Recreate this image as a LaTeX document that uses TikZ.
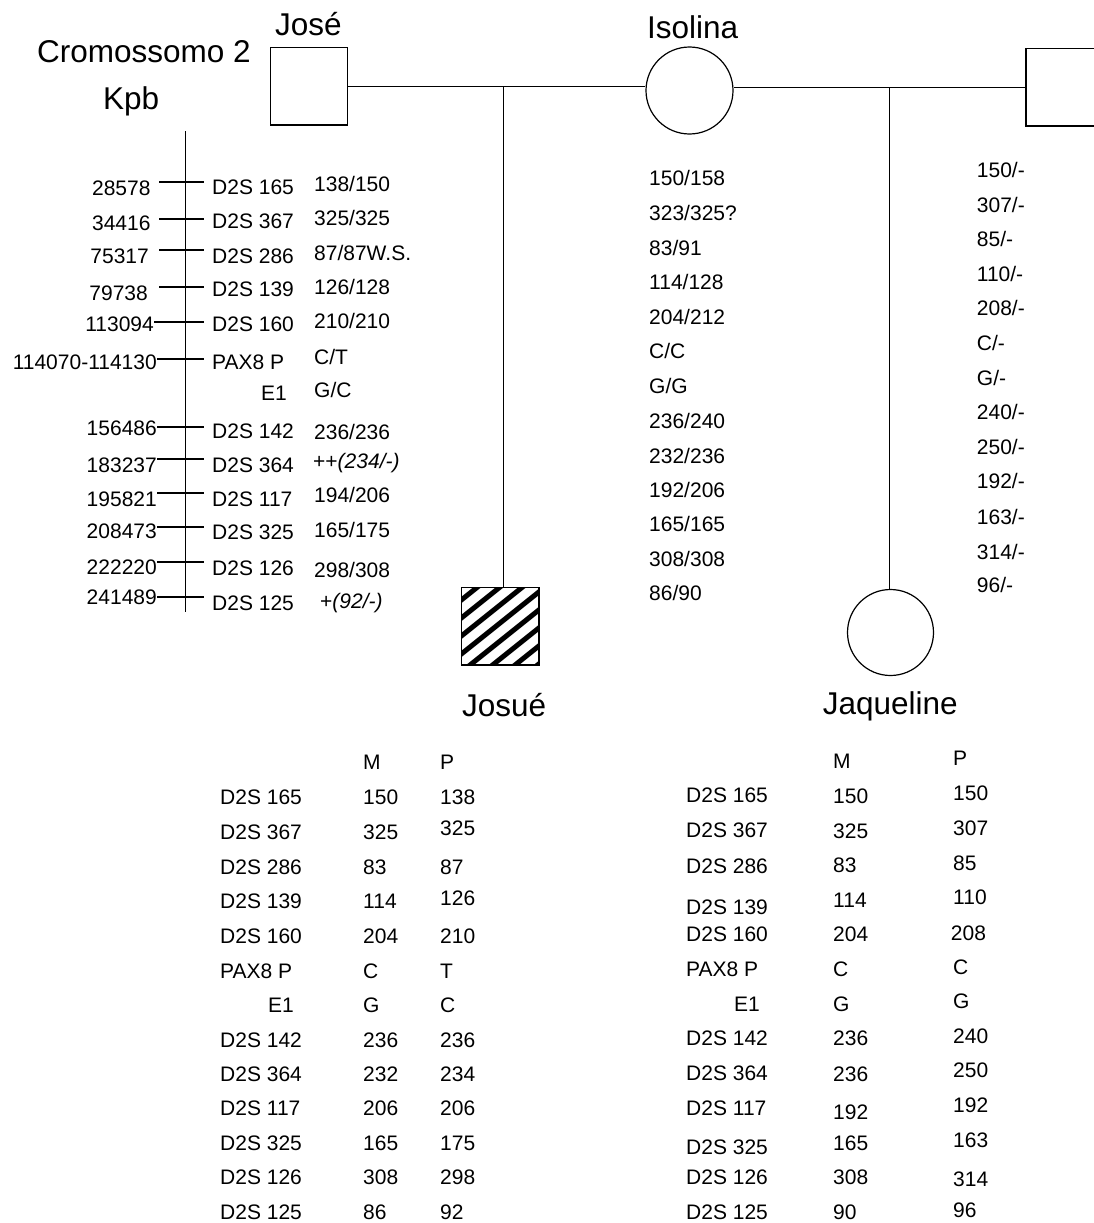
\documentclass[tikz,border=0pt]{standalone}
\usepackage{fontspec}
\setmainfont{Liberation Sans}
\newcommand{\dat}{\fontsize{21}{25}\selectfont}
\newcommand{\ttl}{\fontsize{31.5}{38}\selectfont}
\begin{document}
\begin{tikzpicture}[x=1pt,y=-1pt,
  lw/.style={line width=1.2pt},
  lbl/.style={anchor=base west,inner sep=0pt,font=\dat},
  rlbl/.style={anchor=base east,inner sep=0pt,font=\dat},
  tlbl/.style={anchor=base west,inner sep=0pt,font=\ttl},
  male/.style={draw,lw,rectangle,minimum size=77.3pt,inner sep=0pt},
  female/.style={draw,lw,circle,minimum size=87pt,inner sep=0pt}]
\useasboundingbox (0,0) rectangle (1093,1223);

% ---- titles
\node[tlbl] (crom) at (37,63) {Cromossomo 2};
\node[tlbl] (kpb) at (103,109) {Kpb};
\node[tlbl] (tjose) at (275,36) {José};
\node[tlbl] (tisolina) at (647,39) {Isolina};
\node[tlbl] (tjosue) at (462,716) {Josué};
\node[tlbl] (tjaq) at (822.7,714) {Jaqueline};

% ---- hatch of Josué
\begin{scope}
  \clip (461.7,587.7) rectangle (539,665);
  \foreach \k in {-1,...,7}{
    \draw[line width=5pt] ({476.7+22.5*\k-112.5},677.7) -- ({476.7+22.5*\k+22.5},569.7);
  }
\end{scope}

% ---- pedigree symbols
\node[male] (jose) at (309.2,86.4) {};
\node[female] (isolina) at (689.5,90.5) {};
\node[male,line width=1.5pt] (pai) at (1064.6,87.3) {};
\node[male] (josue) at (500.35,626.35) {};
\node[female,minimum size=86pt] (jaqueline) at (890.5,632.5) {};

\coordinate (m1) at (503.3,86.4);
\coordinate (m2) at (889.3,87.3);
\draw[lw] (jose.east) -- (isolina.west |- jose.east);
\draw[lw] (isolina.east |- pai.west) -- (pai.west);
\draw[lw] (m1) -- (m1 |- josue.north);
\draw[lw] (m2) -- (m2 |- jaqueline.north);

% ---- chromosome map
\coordinate (ctop) at (185.7,131);
\coordinate (cbot) at (185.7,612);
\draw[lw] (ctop) -- (cbot);
\foreach \xa/\yy in {159/182,159/219,159/250,159/287,154/322,157/359,157/427,157/459,157/493,157/527,157/562,157/597}{
  \draw[lw] (\xa,\yy) -- (204,\yy);
}
\foreach \xx/\yy/\t [count=\i] in {150.7/187.5/28578,150.7/222.5/34416,149/256/75317,148/293/79738,154/324/113094,157/362/114070-114130,157/428/156486,157/465/183237,157/499/195821,157/531/208473,157/567/222220,157/597/241489}{
  \node[rlbl] (pos\i) at (\xx,\yy+7.5) {\t};
}
\foreach \xx/\yy/\t [count=\i] in {212/187/D2S 165,212/221/D2S 367,212/256/D2S 286,212/289/D2S 139,212/324/D2S 160,212/362/PAX8 P,261/393/E1,212/431/D2S 142,212/465/D2S 364,212/499/D2S 117,212/532/D2S 325,212/568/D2S 126,212/603/D2S 125}{
  \node[lbl] (mk\i) at (\xx,\yy+7.5) {\t};
}
\foreach \xx/\yy/\t [count=\i] in {314/183.5/{138/150},314/218/{325/325},314/253/{87/87W.S.},314/287/{126/128},314/321/{210/210},314/357/{C/T},314/390/{G/C},314/432/{236/236},314/495/{194/206},314/530/{165/175},314/570/{298/308}}{
  \node[lbl] (ja\i) at (\xx,\yy+7.5) {\t};
}
\node[lbl] (ja364) at (313,461+7.5) {++\textit{(234/-)}};
\node[lbl] (ja125) at (320,601+7.5) {+\textit{(92/-)}};

% ---- Isolina alleles
\foreach \yy/\t [count=\i] in {178/{150/158},213/{323/325?},248/{83/91},282/{114/128},317/{204/212},351/{C/C},386/{G/G},421/{236/240},456/{232/236},490/{192/206},524/{165/165},559/{308/308},593/{86/90}}{
  \node[lbl] (is\i) at (649,\yy+7.5) {\t};
}
% ---- father alleles
\foreach \yy/\t [count=\i] in {170/{150/-},205/{307/-},239/{85/-},274/{110/-},308/{208/-},343/{C/-},378/{G/-},412/{240/-},447/{250/-},481/{192/-},517/{163/-},552/{314/-},585/{96/-}}{
  \node[lbl] (pa\i) at (976.7,\yy+7.5) {\t};
}

% ---- Josué table
\node[lbl] (jM) at (363,762+7.5) {M};
\node[lbl] (jP) at (440,762+7.5) {P};
\foreach \yy/\t [count=\i] in {797/D2S 165,832/D2S 367,867/D2S 286,901/D2S 139,936/D2S 160,971/PAX8 P,1040/D2S 142,1074/D2S 364,1108/D2S 117,1143/D2S 325,1177/D2S 126,1212/D2S 125}{
  \node[lbl] (jn\i) at (220,\yy+7.5) {\t};
}
\node[lbl] (jnE) at (268,1005+7.5) {E1};
\foreach \yy/\t [count=\i] in {797/150,832/325,867/83,901/114,936/204,971/C,1005/G,1040/236,1074/232,1108/206,1143/165,1177/308,1212/86}{
  \node[lbl] (jm\i) at (363,\yy+7.5) {\t};
}
\foreach \yy/\t [count=\i] in {797/138,828/325,867/87,898/126,936/210,971/T,1005/C,1040/236,1074/234,1108/206,1143/175,1177/298,1212/92}{
  \node[lbl] (jp\i) at (440,\yy+7.5) {\t};
}

% ---- Jaqueline table
\node[lbl] (qM) at (833,761+7.5) {M};
\node[lbl] (qP) at (953,758+7.5) {P};
\foreach \yy/\t [count=\i] in {795/D2S 165,830/D2S 367,866/D2S 286,907/D2S 139,934/D2S 160,969/PAX8 P,1038/D2S 142,1073/D2S 364,1108/D2S 117,1147/D2S 325,1177/D2S 126,1212/D2S 125}{
  \node[lbl] (qn\i) at (686,\yy+7.5) {\t};
}
\node[lbl] (qnE) at (734,1004+7.5) {E1};
\foreach \yy/\t [count=\i] in {796/150,831/325,865/83,900/114,934/204,969/C,1004/G,1038/236,1074/236,1112/192,1143/165,1177/308,1212/90}{
  \node[lbl] (qm\i) at (833,\yy+7.5) {\t};
}
\foreach \xx/\yy/\t [count=\i] in {953/793/150,953/828/307,953/863/85,953/897/110,950.7/933/208,953/967/C,953/1001/G,953/1036/240,953/1070/250,953/1105/192,953/1140/163,953/1179/314,953/1210/96}{
  \node[lbl] (qp\i) at (\xx,\yy+7.5) {\t};
}
\end{tikzpicture}
\end{document}
